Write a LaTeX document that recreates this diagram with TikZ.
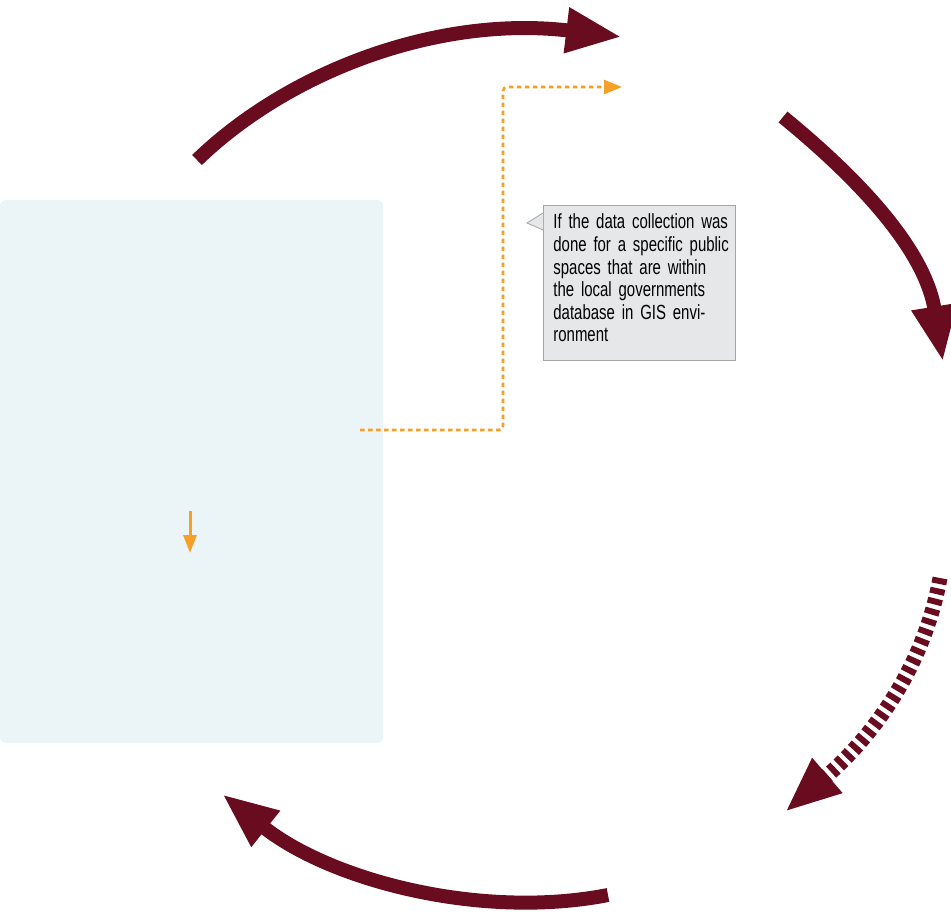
\documentclass[tikz,border=0pt]{standalone}
\usepackage{fontspec}
\newfontfamily\notefont[FakeStretch=0.73]{Liberation Sans}
\usepackage{xcolor}
\usepackage{tikz}
\usetikzlibrary{arrows.meta,positioning}
\definecolor{wine}{RGB}{106,12,32}
\definecolor{amber}{RGB}{247,160,40}
\definecolor{paleblue}{RGB}{235,244,246}
\definecolor{notegray}{RGB}{230,231,232}
\definecolor{noteline}{RGB}{165,165,165}

\begin{document}
\begin{tikzpicture}[x=1pt, y=-1pt, cycle/.style={line width=14pt, draw=wine, -{Triangle[length=56pt,width=42pt]}}, flow/.style={draw=amber, line width=2.6pt, dash pattern=on 4.5pt off 3.5pt, rounded corners=4pt, -{Triangle[length=18pt,width=14pt,fill=amber]}}, panel/.style={fill=paleblue, rounded corners=6pt, minimum width=383pt, minimum height=543pt, inner sep=0pt}, note/.style={fill=notegray, draw=noteline, line width=0.8pt, align=left, text width=172pt, inner xsep=10pt, minimum height=155pt, font=\notefont\fontsize{20.5}{22.6}\selectfont}]
\useasboundingbox (0,0) rectangle (951,916);
\node[panel] (panel) at (191.5,471.5) {};
\node[note, anchor=north west] (note) at (543,205) {\mbox{If the data collection was}\\ \mbox{done for a specific public}\\ \mbox{spaces that are within}\\ \mbox{the local governments}\\ \mbox{database in GIS envi-}\\ \mbox{ronment}\\[-12.6pt]\mbox{}};
% pointer of the note
\fill[notegray] ([yshift=-8pt]note.north west) -- ++(-16,10) -- ([yshift=-25pt]note.north west) -- cycle;
\draw[noteline, line width=0.8pt] ([yshift=-8pt]note.north west) -- ++(-16,10) -- ([yshift=-25pt]note.north west);

\coordinate (topstart) at (197,160);
\coordinate (topend) at (622,37);
\coordinate (rightstart) at (783,117);
\coordinate (rightend) at (943,362);
\coordinate (dashstart) at (940,578);
\coordinate (dashend) at (785,812);
\coordinate (botstart) at (608,895);
\coordinate (botend) at (222,794);
\coordinate (flowstart) at (360,430);
\coordinate (flowend) at (622,87);
\coordinate (downstart) at (190,511);
\coordinate (downend) at (190,553);

\draw[cycle] (topstart) .. controls (290,70) and (440,15) .. (topend);
\draw[cycle] (rightstart) .. controls (860,180) and (925,250) .. (rightend);
\draw[cycle, line width=15pt, dash pattern=on 6pt off 4.5pt] (dashstart) .. controls (925,660) and (880,730) .. (dashend);
\draw[cycle] (botstart) .. controls (480,920) and (330,880) .. (botend);

\draw[flow] (flowstart) -| (503,87) -- (flowend);
\draw[amber, line width=3pt, -{Triangle[length=18pt,width=13pt]}] (downstart) -- (downend);
\end{tikzpicture}
\end{document}
